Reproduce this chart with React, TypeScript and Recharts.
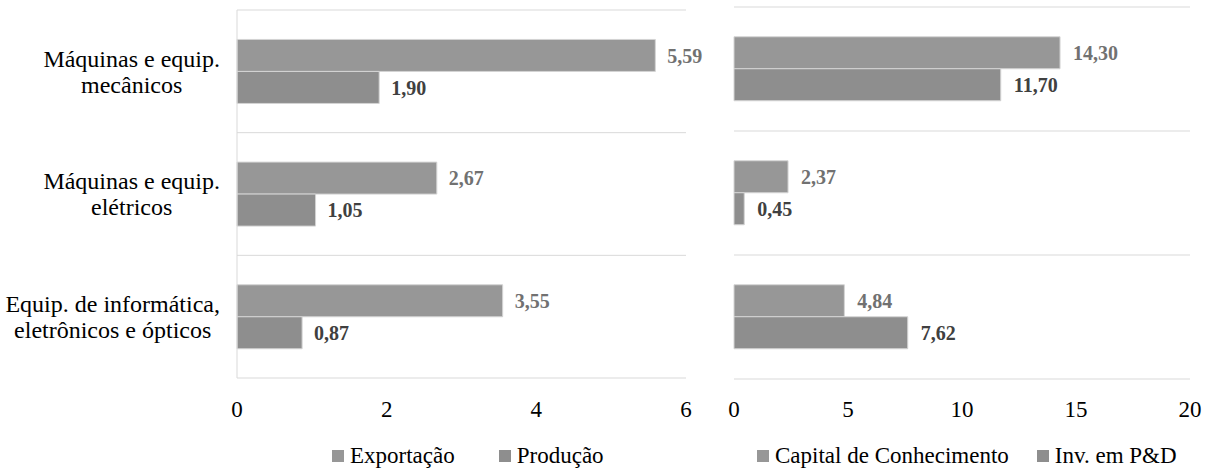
import React from 'react';
import { BarChart, Bar, XAxis, YAxis, CartesianGrid, LabelList, Legend } from 'recharts';

// Sector names and the line breaks used on the category axis
const categories = [
  'Máquinas e equip. mecânicos',
  'Máquinas e equip. elétricos',
  'Equip. de informática, eletrônicos e ópticos',
];
const categoryLines = [
  ['Máquinas e equip.', 'mecânicos'],
  ['Máquinas e equip.', 'elétricos'],
  ['Equip. de informática,', 'eletrônicos e ópticos'],
];

// Left panel: exports and production
const exportacao = [5.59, 2.67, 3.55];
const producao = [1.9, 1.05, 0.87];
const leftTicks = [0, 2, 4, 6];
const leftLegend = ['Exportação', 'Produção'];

// Right panel: knowledge capital and R&D investment
const capitalConhecimento = [14.3, 2.37, 4.84];
const investimentoPD = [11.7, 0.45, 7.62];
const rightTicks = [0, 5, 10, 15, 20];
const rightLegend = ['Capital de Conhecimento', 'Inv. em P&D'];

const FONT = "'Liberation Serif', 'Times New Roman', serif";
const COLOR_A = '#979797';
const COLOR_B = '#8e8e8e';
const GRID = '#d9d9d9';
const CAT_FONT_SIZE = 24;

const leftData = categories.map((name, i) => ({ name, a: exportacao[i], b: producao[i] }));
const rightData = categories.map((name, i) => ({ name, a: capitalConhecimento[i], b: investimentoPD[i] }));

const fmt = (v: any) => Number(v).toFixed(2).replace('.', ',');

let ctx: CanvasRenderingContext2D | null = null;
function measure(text: string, font: string): number {
  try {
    if (!ctx) ctx = document.createElement('canvas').getContext('2d');
    if (ctx) {
      ctx.font = font;
      return ctx.measureText(text).width;
    }
  } catch (e) {
    /* fall through */
  }
  return text.length * 10;
}

// Multi-line category label: lines centred on each other, block right-aligned to the axis
const CategoryTick = (props: any) => {
  const { x, y, payload } = props;
  const idx = categories.indexOf(payload.value);
  const lines = idx >= 0 ? categoryLines[idx] : [String(payload.value)];
  const w = Math.max(...lines.map((l) => measure(l, `${CAT_FONT_SIZE}px ${FONT}`)));
  const cx = x - w / 2;
  return (
    <g>
      {lines.map((l, i) => (
        <text
          key={i}
          x={cx}
          y={y + (i - (lines.length - 1) / 2) * 26}
          dy="0.35em"
          textAnchor="middle"
          fontFamily={FONT}
          fontSize={CAT_FONT_SIZE}
          fill="#000"
        >
          {l}
        </text>
      ))}
    </g>
  );
};

const LegendRow = ({ labels, paddingLeft, gap }: { labels: string[]; paddingLeft: number; gap: number }) => (
  <div
    style={{
      height: 46,
      paddingTop: 19,
      boxSizing: 'border-box',
      paddingLeft,
      display: 'flex',
      alignItems: 'center',
      fontFamily: FONT,
      fontSize: 23,
      lineHeight: '26px',
      color: '#000',
      whiteSpace: 'nowrap',
    }}
  >
    {labels.map((label, i) => (
      <span key={label} style={{ display: 'flex', alignItems: 'center', marginRight: gap }}>
        <span
          style={{
            display: 'inline-block',
            width: 12,
            height: 12,
            background: i === 0 ? COLOR_A : COLOR_B,
            marginRight: 6,
          }}
        />
        {label}
      </span>
    ))}
  </div>
);

// Horizontal rules on the borders between category bands
const gridLines = ({ offset }: any) => {
  const n = categories.length;
  const out: number[] = [];
  for (let i = 0; i <= n; i++) out.push(offset.top + (i * offset.height) / n);
  return out;
};

const tickStyle = { fontFamily: FONT, fontSize: 23, fill: '#000' };
const labelA = { fontFamily: FONT, fontSize: 20, fontWeight: 700, fill: '#717171' };
const labelB = { fontFamily: FONT, fontSize: 20, fontWeight: 700, fill: '#404040' };

export default function App() {
  return (
    <div style={{ position: 'absolute', left: 0, top: 0, width: 1216, height: 469, background: '#fff' }}>
      <div style={{ position: 'absolute', left: 0, top: 0 }}>
        <BarChart
          width={703}
          height={469}
          data={leftData}
          layout="vertical"
          margin={{ top: 10, right: 17, left: 0, bottom: 0 }}
          barCategoryGap="24%"
          barGap={0}
        >
          <CartesianGrid stroke={GRID} vertical={false} horizontalCoordinatesGenerator={gridLines} />
          <XAxis
            type="number"
            domain={[0, 6]}
            ticks={leftTicks}
            axisLine={false}
            tickLine={false}
            tickSize={0}
            tickMargin={23}
            height={45}
            tick={tickStyle}
          />
          <YAxis
            type="category"
            dataKey="name"
            width={237}
            axisLine={{ stroke: GRID }}
            tickLine={false}
            tickSize={0}
            tickMargin={17}
            tick={<CategoryTick />}
            interval={0}
          />
          <Legend
            verticalAlign="bottom"
            wrapperStyle={{ left: 0, bottom: 0, width: 703 }}
            content={() => <LegendRow labels={leftLegend} paddingLeft={332} gap={44} />}
          />
          <Bar dataKey="a" name={leftLegend[0]} fill={COLOR_A} stroke="#d4d4d4" strokeWidth={1} isAnimationActive={false}>
            <LabelList dataKey="a" position="right" offset={12} formatter={fmt} style={labelA} />
          </Bar>
          <Bar dataKey="b" name={leftLegend[1]} fill={COLOR_B} stroke="#d4d4d4" strokeWidth={1} isAnimationActive={false}>
            <LabelList dataKey="b" position="right" offset={12} formatter={fmt} style={labelB} />
          </Bar>
        </BarChart>
      </div>
      <div style={{ position: 'absolute', left: 703, top: 0 }}>
        <BarChart
          width={513}
          height={469}
          data={rightData}
          layout="vertical"
          margin={{ top: 7, right: 26, left: 31, bottom: 0 }}
          barCategoryGap="24%"
          barGap={0}
        >
          <CartesianGrid stroke={GRID} vertical={false} horizontalCoordinatesGenerator={gridLines} />
          <XAxis
            type="number"
            domain={[0, 20]}
            ticks={rightTicks}
            axisLine={false}
            tickLine={false}
            tickSize={0}
            tickMargin={22}
            height={44}
            tick={tickStyle}
          />
          <YAxis type="category" dataKey="name" hide width={0} />
          <Legend
            verticalAlign="bottom"
            wrapperStyle={{ left: 0, bottom: 0, width: 513 }}
            content={() => <LegendRow labels={rightLegend} paddingLeft={54} gap={28} />}
          />
          <Bar dataKey="a" name={rightLegend[0]} fill={COLOR_A} stroke="#d4d4d4" strokeWidth={1} isAnimationActive={false}>
            <LabelList dataKey="a" position="right" offset={13} formatter={fmt} style={labelA} />
          </Bar>
          <Bar dataKey="b" name={rightLegend[1]} fill={COLOR_B} stroke="#d4d4d4" strokeWidth={1} isAnimationActive={false}>
            <LabelList dataKey="b" position="right" offset={13} formatter={fmt} style={labelB} />
          </Bar>
        </BarChart>
      </div>
    </div>
  );
}
